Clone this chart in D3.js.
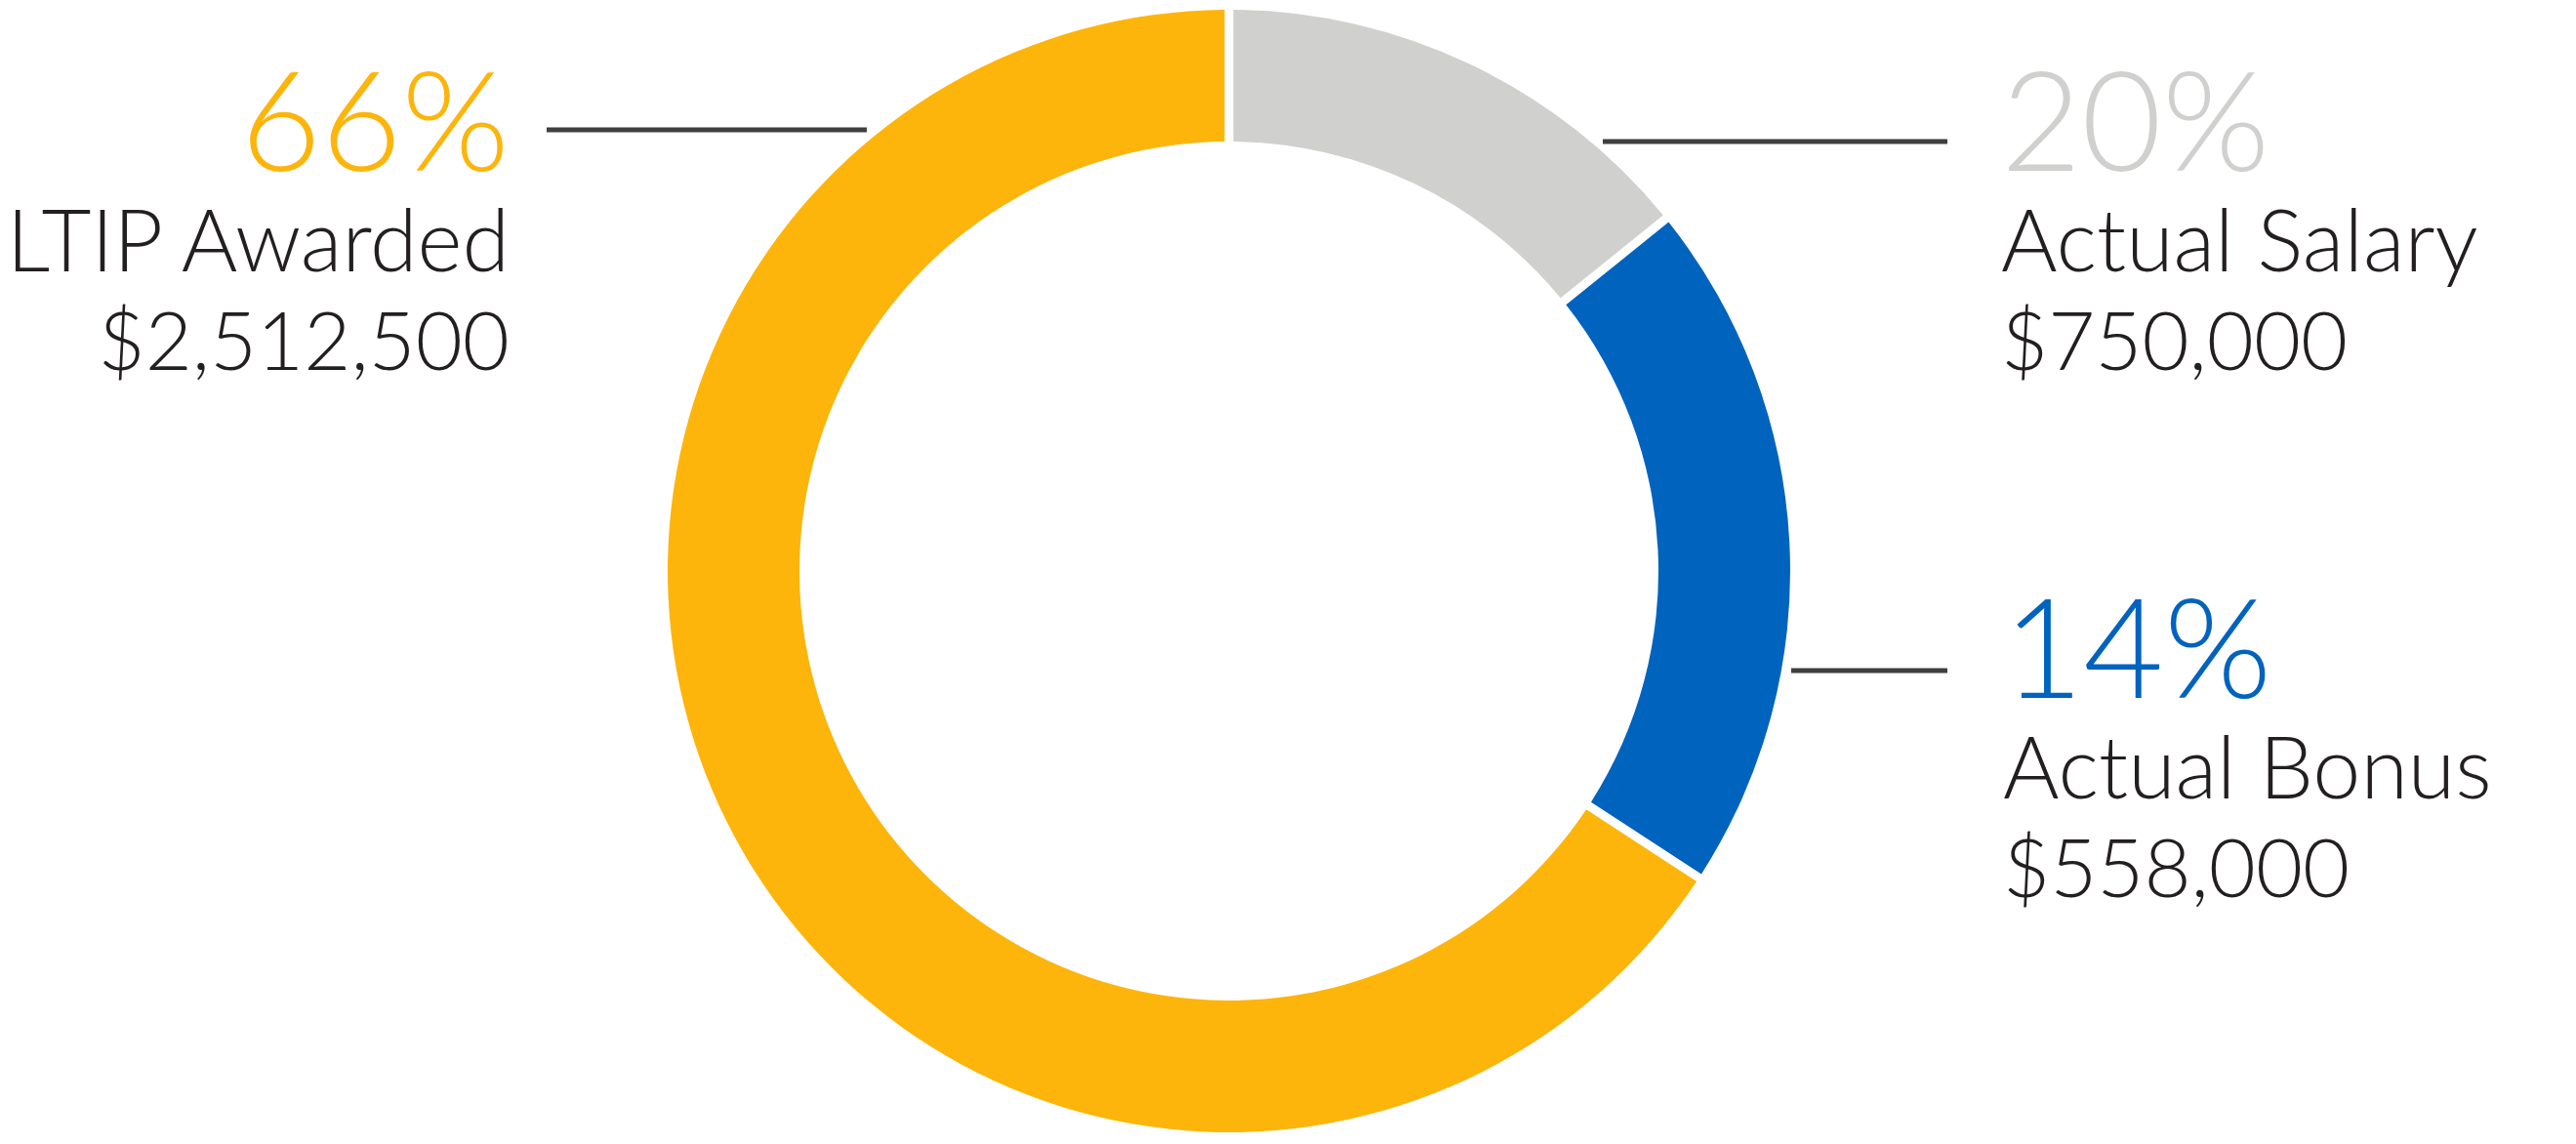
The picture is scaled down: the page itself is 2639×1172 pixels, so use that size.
<!DOCTYPE html>
<html>
<head>
<meta charset="utf-8">
<script src="https://cdn.jsdelivr.net/npm/d3@7"></script>
<style>
  body { margin: 0; background: #fff; }
  svg { display: block; font-family: Lato, "Open Sans", sans-serif; }
</style>
</head>
<body>
<script>
// datos de la grafica
var categories = ["Actual Salary", "Actual Bonus", "LTIP Awarded"];
var amounts = ["$750,000", "$558,000", "$2,512,500"];
var pctLabels = ["20%", "14%", "66%"];
// barrido de cada arco tal como se ve en la imagen (porcentaje del anillo)
var arcShares = [14.2, 20.0, 65.8];
var colors = ["#d0d0ce", "#0063be", "#fdb50b"];

var W = 2639, H = 1172;
var cx = 1259, cy = 585, rOut = 575, rIn = 440;

var svg = d3.select("body").append("svg")
    .attr("width", W)
    .attr("height", H);

var pie = d3.pie().sort(null).value(function(d){ return d; });
var arc = d3.arc()
    .innerRadius(rIn)
    .outerRadius(rOut)
    .padAngle(9 / Math.sqrt(rIn * rIn + rOut * rOut));

var g = svg.append("g").attr("transform", "translate(" + [cx, cy] + ")");
g.selectAll("path")
    .data(pie(arcShares))
    .enter()
    .append("path")
    .attr("d", arc)
    .attr("fill", function(d, i){ return colors[i]; });

// lineas guia: [y, x desde, x hasta]
var leaders = [
  { i: 0, y: 145, x1: 1642, x2: 1995 },
  { i: 1, y: 687, x1: 1835, x2: 1995 },
  { i: 2, y: 133, x1: 560, x2: 888 }
];
svg.selectAll("line.leader")
    .data(leaders)
    .enter()
    .append("line")
    .attr("class", "leader")
    .attr("x1", function(d){ return d.x1; })
    .attr("x2", function(d){ return d.x2; })
    .attr("y1", function(d){ return d.y; })
    .attr("y2", function(d){ return d.y; })
    .attr("stroke", "#3f3f3f")
    .attr("stroke-width", 5);

// bloques de texto
var blocks = [
  { i: 0, x: 2050, y: 175, anchor: "start" },
  { i: 1, x: 2052, y: 715, anchor: "start" },
  { i: 2, x: 522, y: 175, anchor: "end" }
];
var tb = svg.selectAll("g.block")
    .data(blocks)
    .enter()
    .append("g")
    .attr("class", "block")
    .attr("text-anchor", function(d){ return d.anchor; });

tb.append("text")
    .attr("x", function(d){ return d.x; })
    .attr("y", function(d){ return d.y; })
    .attr("font-size", "142px")
    .attr("font-weight", 300)
    .attr("fill", function(d){ return colors[d.i]; })
    .text(function(d){ return pctLabels[d.i]; });

tb.append("text")
    .attr("x", function(d){ return d.x; })
    .attr("y", function(d){ return d.y + 103; })
    .attr("font-size", "88px")
    .attr("font-weight", 300)
    .attr("fill", "#231f20")
    .text(function(d){ return categories[d.i]; });

tb.append("text")
    .attr("x", function(d){ return d.x; })
    .attr("y", function(d){ return d.y + 204; })
    .attr("font-size", "83px")
    .attr("font-weight", 300)
    .attr("fill", "#231f20")
    .text(function(d){ return amounts[d.i]; });
</script>
</body>
</html>
